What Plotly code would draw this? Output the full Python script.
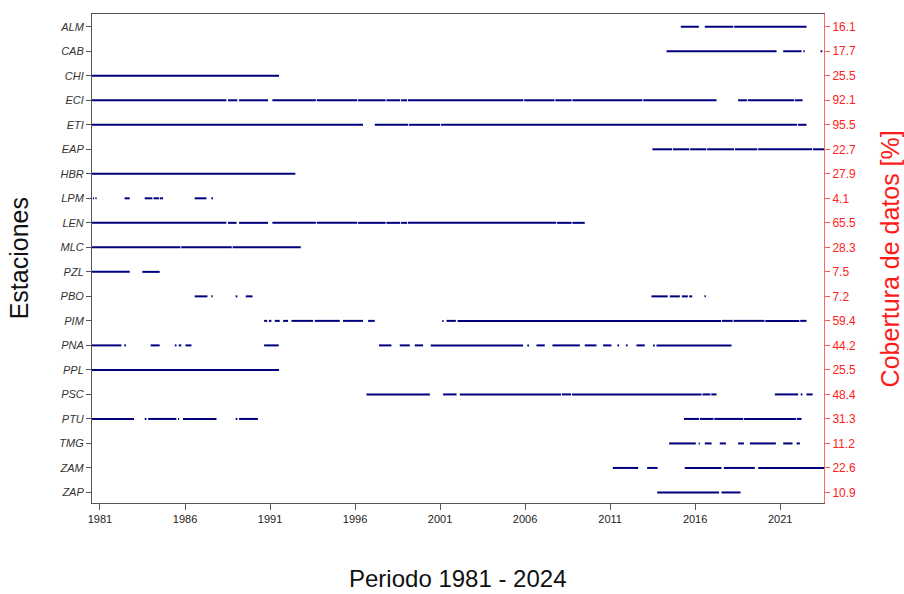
import plotly.graph_objects as go

stations = ["ALM", "CAB", "CHI", "ECI", "ETI", "EAP", "HBR", "LPM", "LEN", "MLC",
            "PZL", "PBO", "PIM", "PNA", "PPL", "PSC", "PTU", "TMG", "ZAM", "ZAP"]
coverage = ["16.1", "17.7", "25.5", "92.1", "95.5", "22.7", "27.9", "4.1", "65.5", "28.3",
            "7.5", "7.2", "59.4", "44.2", "25.5", "48.4", "31.3", "11.2", "22.6", "10.9"]

year_ticks = [1981, 1986, 1991, 1996, 2001, 2006, 2011, 2016, 2021]

# data-availability periods (decimal years, start/end) per station
ALM = [(2015.63, 2016.69), (2017.04, 2018.72), (2018.77, 2023.02)]
CAB = [(2014.79, 2021.26), (2021.65, 2022.73), (2022.84, 2022.92), (2023.85, 2023.95)]
CHI = [(1981.0, 1992.0)]
ECI = [(1981.0, 1988.9), (1989.0, 1989.55), (1989.65, 1991.35), (1991.61, 1994.17),
       (1994.22, 1996.6), (1996.65, 1998.27), (1998.32, 1999.13), (1999.18, 1999.53),
       (1999.58, 2006.37), (2006.42, 2008.2), (2008.25, 2009.2), (2009.25, 2013.37),
       (2013.42, 2017.73), (2019.0, 2019.52), (2019.57, 2022.3), (2022.35, 2022.79)]
ETI = [(1981.0, 1996.94), (1997.63, 1999.6), (1999.65, 2001.48), (2001.53, 2022.47),
       (2022.52, 2023.02)]
EAP = [(2013.96, 2015.12), (2015.17, 2016.13), (2016.18, 2017.13), (2017.18, 2018.77),
       (2018.82, 2020.13), (2020.18, 2023.35), (2023.4, 2024.05)]
HBR = [(1981.0, 1992.96)]
LPM = [(1981.05, 1981.12), (1981.2, 1981.27), (1982.92, 1983.22), (1984.1, 1984.55),
       (1984.62, 1984.95), (1985.0, 1985.18), (1987.04, 1987.73), (1988.02, 1988.12)]
LEN = [(1981.0, 1988.9), (1989.0, 1989.5), (1989.65, 1991.35), (1991.61, 1994.17),
       (1994.22, 1996.6), (1996.65, 1998.27), (1998.32, 1999.13), (1999.18, 1999.53),
       (1999.58, 2008.3), (2008.35, 2009.2), (2009.25, 2009.98)]
MLC = [(1981.0, 1986.2), (1986.25, 1989.22), (1989.27, 1993.28)]
PZL = [(1981.0, 1983.22), (1983.96, 1984.98)]
PBO = [(1987.04, 1987.79), (1988.02, 1988.1), (1989.45, 1989.55), (1990.04, 1990.44),
       (2013.9, 2014.86), (2014.98, 2015.57), (2015.69, 2016.04), (2016.12, 2016.3),
       (2017.02, 2017.1)]
PIM = [(1991.12, 1991.3), (1991.4, 1991.55), (1991.75, 1992.04), (1992.24, 1992.53),
       (1992.73, 1994.0), (1994.1, 1995.57), (1995.76, 1996.94), (1997.24, 1997.63),
       (2001.6, 2001.68), (2001.85, 2002.4), (2002.5, 2018.0), (2018.05, 2018.68),
       (2018.73, 2020.55), (2020.6, 2022.6), (2022.65, 2023.02)]
PNA = [(1981.0, 1982.73), (1982.9, 1983.0), (1984.45, 1984.98), (1985.87, 1985.97),
       (1986.1, 1986.25), (1986.5, 1986.85), (1991.12, 1991.98), (1997.88, 1998.61),
       (1999.1, 1999.69), (1999.98, 2000.47), (2000.92, 2006.35), (2006.6, 2006.7),
       (2007.14, 2007.63), (2008.08, 2009.69), (2009.98, 2010.67), (2011.06, 2011.55),
       (2011.9, 2012.0), (2012.4, 2012.5), (2013.02, 2013.51), (2014.0, 2014.1),
       (2014.2, 2018.61)]
PPL = [(1981.0, 1992.0)]
PSC = [(1997.14, 2000.87), (2001.65, 2002.44), (2002.63, 2008.58), (2008.63, 2009.18),
       (2009.23, 2016.85), (2016.9, 2017.37), (2017.42, 2017.73), (2021.16, 2022.53),
       (2022.68, 2022.78), (2023.02, 2023.38)]
PTU = [(1981.0, 1983.47), (1984.1, 1984.2), (1984.3, 1985.96), (1986.06, 1986.12),
       (1986.35, 1988.32), (1989.45, 1989.55), (1989.65, 1990.76), (2015.81, 2016.7),
       (2016.75, 2017.55), (2017.6, 2019.3), (2019.35, 2022.4), (2022.45, 2022.73)]
TMG = [(2014.94, 2016.51), (2016.68, 2016.75), (2017.04, 2017.44), (2017.92, 2018.28),
       (2019.0, 2019.34), (2019.69, 2021.22), (2021.65, 2022.2), (2022.44, 2022.63)]
ZAM = [(2011.63, 2013.12), (2013.65, 2014.26), (2015.86, 2018.02), (2018.16, 2019.98),
       (2020.18, 2024.05)]
ZAP = [(2014.24, 2017.88), (2018.02, 2019.14)]

periods = [ALM, CAB, CHI, ECI, ETI, EAP, HBR, LPM, LEN, MLC,
           PZL, PBO, PIM, PNA, PPL, PSC, PTU, TMG, ZAM, ZAP]

FONT = "Liberation Sans, Arial, sans-serif"
LINE = "#00007F"

fig = go.Figure()
for i, segs in enumerate(periods):
    xs, ys = [], []
    for a, b in segs:
        xs += [a, b, None]
        ys += [i, i, None]
    fig.add_trace(go.Scatter(x=xs, y=ys, mode="lines",
                             line=dict(color=LINE, width=2),
                             showlegend=False, hoverinfo="skip"))

# invisible trace to activate the secondary axis
fig.add_trace(go.Scatter(x=[None], y=[None], yaxis="y2", showlegend=False))

n = len(stations)
yrange = [n - 1 + 0.43, -0.52]

fig.update_layout(
    width=904, height=594,
    margin=dict(l=92, r=80, t=14, b=91),
    paper_bgcolor="white", plot_bgcolor="white",
    font=dict(family=FONT, color="#222"),
    xaxis=dict(range=[1981.0, 2024.05], tickmode="array",
               tickvals=[y + 0.47 for y in year_ticks],
               ticktext=[str(y) for y in year_ticks],
               ticks="outside", ticklen=6, tickcolor="#555",
               tickfont=dict(size=11, color="#222"),
               showline=True, linecolor="#555", linewidth=1, mirror=True,
               showgrid=False, zeroline=False),
    yaxis=dict(range=yrange, tickmode="array",
               tickvals=list(range(n)), ticktext=stations,
               ticks="outside", ticklen=5, tickcolor="#555",
               tickfont=dict(size=11, color="#333", style="italic"),
               showline=True, linecolor="#555", linewidth=1,
               showgrid=False, zeroline=False),
    yaxis2=dict(range=yrange, overlaying="y", side="right", tickmode="array",
                tickvals=list(range(n)), ticktext=coverage,
                ticks="outside", ticklen=5, tickcolor="#ff5555",
                tickfont=dict(size=12, color="#ff2222"),
                showline=True, linecolor="#ff6666", linewidth=1,
                showgrid=False, zeroline=False),
    annotations=[
        dict(text="Periodo 1981 - 2024", x=0.5, y=-0.155, xref="paper", yref="paper",
             xanchor="center", yanchor="middle", showarrow=False,
             font=dict(size=24, color="#111", family=FONT)),
        dict(text="Estaciones", x=-0.1, y=0.5, xref="paper", yref="paper",
             xanchor="center", yanchor="middle", textangle=-90, showarrow=False,
             font=dict(size=25, color="#111", family=FONT)),
        dict(text="Cobertura de datos [%]", x=1.09, y=0.5, xref="paper", yref="paper",
             xanchor="center", yanchor="middle", textangle=-90, showarrow=False,
             font=dict(size=25, color="#ff1a1a", family=FONT)),
    ],
)

fig.write_html("out.html")
